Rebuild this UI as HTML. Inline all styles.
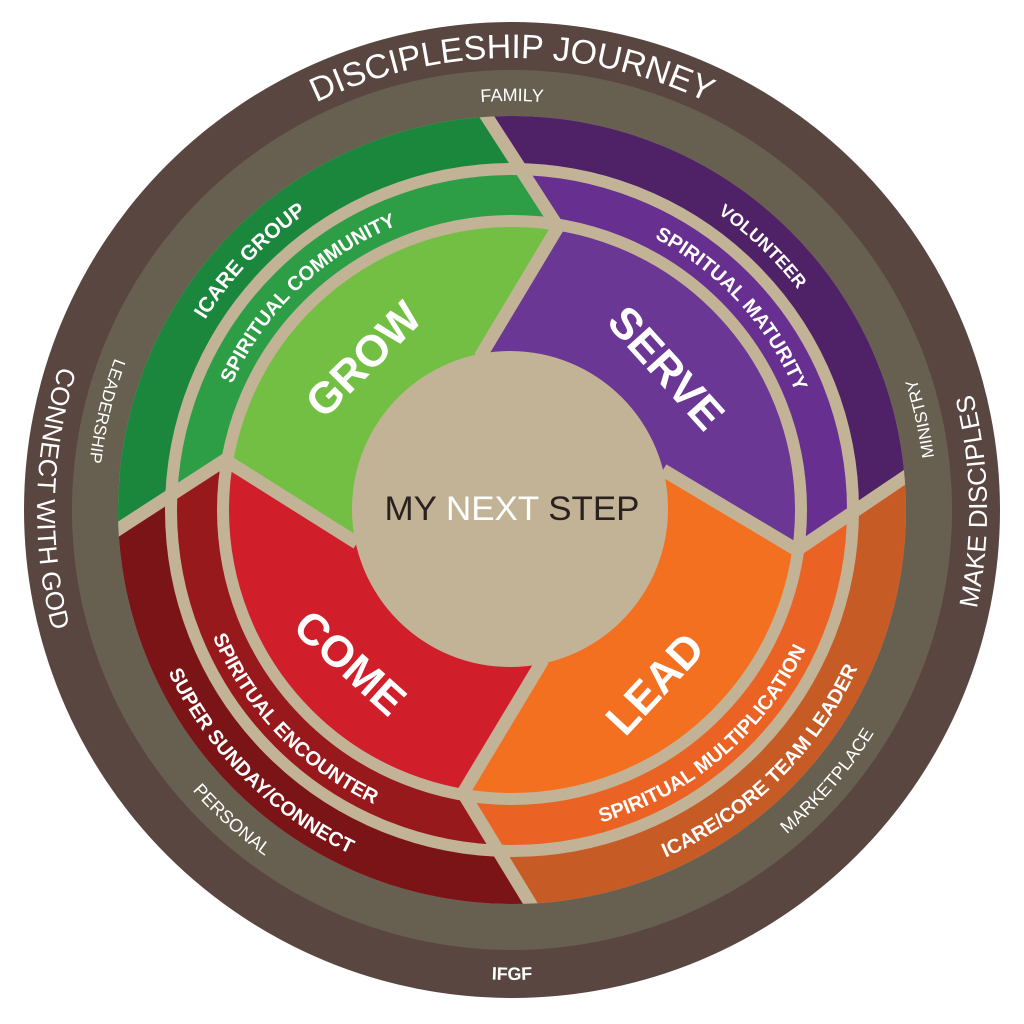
<!DOCTYPE html>
<html><head><meta charset="utf-8"><style>
html,body{margin:0;padding:0;background:#fff;width:1024px;height:1024px;overflow:hidden}
svg{display:block;position:absolute;left:0;top:0}
text{font-family:"Liberation Sans",sans-serif;fill:#fff}
</style></head><body>
<svg width="1024" height="1024" viewBox="0 0 1024 1024" xmlns="http://www.w3.org/2000/svg">
<defs>
<clipPath id="c394"><circle cx="512" cy="510" r="394"/></clipPath>
<clipPath id="c341"><circle cx="512" cy="510" r="341"/></clipPath>
<clipPath id="c289"><circle cx="512" cy="510" r="289"/></clipPath>
<path id="grow" d="M512,510 L357,543 L225,460 L117,530 L75,557 L-50,560 L-50,-50 L450,-50 L460,75 L487,117 L558,227 L480,357Z"/>
<path id="serve" d="M512,510 L480,357 L558,227 L487,117 L460,75 L450,-50 L1100,-50 L1100,447 L950,447 L905,477 L797,550 L663,470Z"/>
<path id="lead" d="M512,510 L663,470 L797,550 L905,477 L950,447 L1100,447 L1100,1100 L550,1100 L550,940 L530,903 L463,793 L543,660Z"/>
<path id="come" d="M512,510 L543,660 L463,793 L530,903 L550,940 L550,1100 L-50,1100 L-50,560 L75,557 L117,530 L225,460 L357,543Z"/>
<path id="cw452" d="M512,962 A452,452 0 1 1 512,58 A452,452 0 1 1 512,962"/>
<path id="cw409" d="M512,919 A409,409 0 1 1 512,101 A409,409 0 1 1 512,919"/>
<path id="cw361" d="M512,871 A361,361 0 1 1 512,149 A361,361 0 1 1 512,871"/>
<path id="cw307" d="M512,817 A307,307 0 1 1 512,203 A307,307 0 1 1 512,817"/>
<path id="ccw475" d="M512,35 A475,475 0 1 0 512,985 A475,475 0 1 0 512,35"/>
<path id="ccw470" d="M512,40 A470,470 0 1 0 512,980 A470,470 0 1 0 512,40"/>
<path id="ccw425" d="M512,85 A425,425 0 1 0 512,935 A425,425 0 1 0 512,85"/>
<path id="ccw380" d="M512,130 A380,380 0 1 0 512,890 A380,380 0 1 0 512,130"/>
<path id="ccw325" d="M512,185 A325,325 0 1 0 512,835 A325,325 0 1 0 512,185"/>
</defs>

<circle cx="512" cy="510" r="488" fill="#5a4640"/>
<circle cx="512" cy="510" r="440" fill="#676050"/>
<circle cx="512" cy="510" r="394" fill="#c2b397"/>

<g clip-path="url(#c394)">
<use href="#grow" fill="#1a873d"/><use href="#serve" fill="#4f2167"/><use href="#lead" fill="#c75b26"/><use href="#come" fill="#7b1416"/>
</g>
<g clip-path="url(#c341)">
<use href="#grow" fill="#2e9e46"/><use href="#serve" fill="#673090"/><use href="#lead" fill="#eb6225"/><use href="#come" fill="#97191c"/>
</g>
<g clip-path="url(#c289)">
<use href="#grow" fill="#72bf44"/><use href="#serve" fill="#6a3795"/><use href="#lead" fill="#f37021"/><use href="#come" fill="#d01f2a"/>
</g>
<g fill="none" stroke="#c2b397" stroke-width="12">
<circle cx="512" cy="510" r="341"/>
<circle cx="512" cy="510" r="289"/>
</g>
<g clip-path="url(#c394)" fill="none" stroke="#c2b397" stroke-width="13" stroke-linejoin="round">
<polyline points="480,357 558,227 487,117 460,75"/>
<polyline points="663,470 797,550 905,477 950,447"/>
<polyline points="543,660 463,793 530,903 550,940"/>
<polyline points="357,543 225,460 117,530 75,557"/>
</g>
<circle cx="510" cy="509" r="158" fill="#c2b397"/>

<text font-size="34" textLength="405" lengthAdjust="spacing"><textPath href="#cw452" startOffset="50%" text-anchor="middle">DISCIPLESHIP JOURNEY</textPath></text>
<text font-size="26"><textPath href="#ccw475" startOffset="24.6%" text-anchor="middle">CONNECT WITH GOD</textPath></text>
<text font-size="26"><textPath href="#ccw475" startOffset="75.3%" text-anchor="middle">MAKE DISCIPLES</textPath></text>
<text font-size="18" font-weight="bold"><textPath href="#ccw470" startOffset="50%" text-anchor="middle">IFGF</textPath></text>

<text font-size="18"><textPath href="#cw409" startOffset="50%" text-anchor="middle">FAMILY</textPath></text>
<text font-size="17"><textPath href="#ccw425" startOffset="78.5%" text-anchor="middle">MINISTRY</textPath></text>
<text font-size="17"><textPath href="#ccw425" startOffset="21.2%" text-anchor="middle">LEADERSHIP</textPath></text>
<text font-size="18"><textPath href="#ccw425" startOffset="38.3%" text-anchor="middle">PERSONAL</textPath></text>
<text font-size="18"><textPath href="#ccw425" startOffset="63.7%" text-anchor="middle">MARKETPLACE</textPath></text>

<text font-size="21" font-weight="bold"><textPath href="#cw361" startOffset="37.1%" text-anchor="middle">ICARE GROUP</textPath></text>
<text font-size="18" font-weight="bold"><textPath href="#cw361" startOffset="62.1%" text-anchor="middle">VOLUNTEER</textPath></text>
<text font-size="20" font-weight="bold"><textPath href="#ccw380" startOffset="62.4%" text-anchor="middle">ICARE/CORE TEAM LEADER</textPath></text>
<text font-size="20" font-weight="bold"><textPath href="#ccw380" startOffset="37.5%" text-anchor="middle">SUPER SUNDAY/CONNECT</textPath></text>

<text font-size="20" font-weight="bold"><textPath href="#cw307" startOffset="37.8%" text-anchor="middle">SPIRITUAL COMMUNITY</textPath></text>
<text font-size="20" font-weight="bold"><textPath href="#cw307" startOffset="63.2%" text-anchor="middle">SPIRITUAL MATURITY</textPath></text>
<text font-size="20" font-weight="bold"><textPath href="#ccw325" startOffset="61.2%" text-anchor="middle">SPIRITUAL MULTIPLICATION</textPath></text>
<text font-size="20" font-weight="bold"><textPath href="#ccw325" startOffset="37.2%" text-anchor="middle">SPIRITUAL ENCOUNTER</textPath></text>

<g font-size="44" font-weight="bold" text-anchor="middle">
<text transform="translate(374,370) rotate(-45)">GROW</text>
<text transform="translate(655,378) rotate(48)">SERVE</text>
<text transform="translate(340,674) rotate(42)">COME</text>
<text transform="translate(666,694) rotate(-47)">LEAD</text>
</g>
<text x="512" y="520" font-size="34" text-anchor="middle" textLength="255" lengthAdjust="spacingAndGlyphs"><tspan fill="#2b2220">MY </tspan><tspan fill="#fff">NEXT</tspan><tspan fill="#2b2220"> STEP</tspan></text>
</svg>
</body></html>
